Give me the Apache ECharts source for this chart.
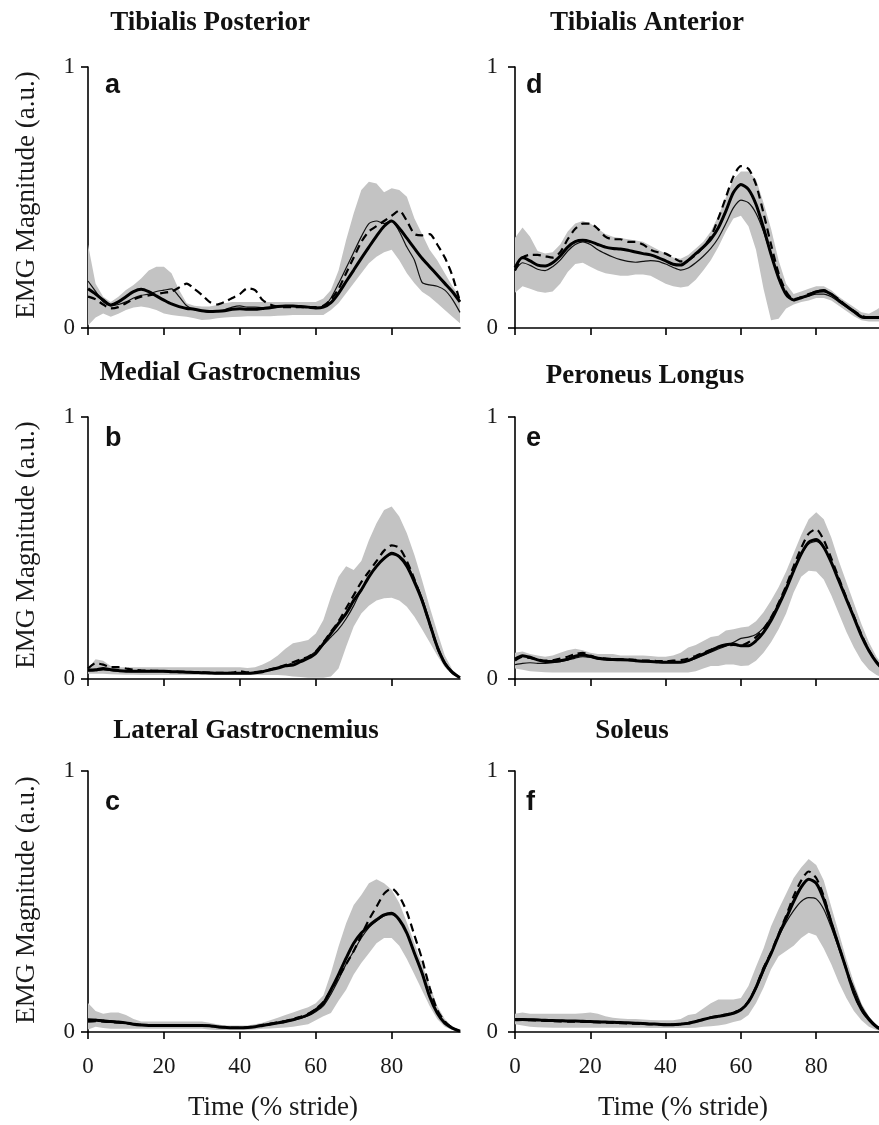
<!DOCTYPE html>
<html>
<head>
<meta charset="utf-8">
<script src="https://cdn.jsdelivr.net/npm/echarts@6/dist/echarts.min.js"></script>
<style>
html,body{margin:0;padding:0;background:#ffffff;}
#chart{width:879px;height:1125px;}
</style>
</head>
<body>
<div id="chart"></div>
<script>
// ---------- DATA ----------
const stride = [0,2,4,6,8,10,12,14,16,18,20,22,24,26,28,30,32,34,36,38,40,42,44,46,48,50,52,54,56,58,60,62,64,66,68,70,72,74,76,78,80,82,84,86,88,90,92,94,96,98];
const xTicks = [0,20,40,60,80];

const panelTitles = ["Tibialis Posterior","Tibialis Anterior","Medial Gastrocnemius","Peroneus Longus","Lateral Gastrocnemius","Soleus"];
const panelLetters = ["a","d","b","e","c","f"];
const yAxisTitle = "EMG Magnitude (a.u.)";
const xAxisTitle = "Time (% stride)";

// a - Tibialis Posterior
const aMean = [0.15,0.13,0.107,0.088,0.10,0.12,0.139,0.148,0.139,0.123,0.107,0.092,0.082,0.075,0.072,0.066,0.063,0.064,0.066,0.072,0.074,0.072,0.072,0.075,0.078,0.082,0.084,0.084,0.082,0.080,0.077,0.08,0.097,0.133,0.178,0.222,0.267,0.31,0.352,0.39,0.41,0.382,0.344,0.305,0.267,0.235,0.203,0.171,0.139,0.10];
const aThin = [0.18,0.14,0.10,0.085,0.09,0.10,0.115,0.125,0.13,0.14,0.145,0.15,0.12,0.085,0.07,0.065,0.06,0.065,0.07,0.08,0.085,0.08,0.08,0.078,0.08,0.082,0.085,0.085,0.085,0.08,0.075,0.08,0.115,0.17,0.23,0.29,0.35,0.40,0.41,0.40,0.41,0.37,0.31,0.26,0.175,0.165,0.16,0.145,0.11,0.06];
const aDash = [0.12,0.11,0.09,0.075,0.08,0.095,0.11,0.12,0.125,0.13,0.135,0.14,0.155,0.17,0.15,0.127,0.10,0.09,0.10,0.115,0.13,0.152,0.145,0.107,0.09,0.082,0.08,0.08,0.08,0.08,0.08,0.085,0.11,0.15,0.21,0.27,0.33,0.37,0.39,0.41,0.43,0.45,0.41,0.36,0.355,0.36,0.32,0.27,0.20,0.10];
const aUpper = [0.32,0.17,0.12,0.10,0.12,0.146,0.165,0.19,0.22,0.235,0.235,0.21,0.146,0.095,0.085,0.082,0.082,0.088,0.095,0.10,0.10,0.10,0.10,0.10,0.10,0.10,0.10,0.10,0.10,0.10,0.10,0.113,0.146,0.22,0.337,0.44,0.529,0.56,0.554,0.52,0.535,0.529,0.503,0.42,0.36,0.30,0.26,0.21,0.16,0.12];
const aLower = [0.01,0.04,0.056,0.043,0.055,0.069,0.079,0.082,0.078,0.069,0.056,0.05,0.046,0.043,0.037,0.031,0.033,0.037,0.04,0.042,0.043,0.045,0.045,0.045,0.045,0.047,0.048,0.05,0.05,0.05,0.05,0.05,0.069,0.095,0.133,0.171,0.21,0.248,0.273,0.29,0.30,0.26,0.21,0.171,0.139,0.12,0.095,0.069,0.043,0.018];

// d - Tibialis Anterior
const dMean = [0.231,0.27,0.257,0.241,0.238,0.25,0.276,0.31,0.331,0.336,0.331,0.32,0.31,0.305,0.303,0.298,0.291,0.285,0.28,0.27,0.257,0.244,0.241,0.259,0.285,0.31,0.34,0.384,0.448,0.519,0.55,0.531,0.474,0.384,0.282,0.193,0.129,0.107,0.116,0.126,0.139,0.142,0.129,0.106,0.084,0.063,0.043,0.04,0.04,0.04];
const dThin = [0.22,0.25,0.24,0.225,0.22,0.235,0.26,0.295,0.32,0.33,0.32,0.30,0.285,0.272,0.262,0.255,0.252,0.255,0.258,0.255,0.245,0.232,0.222,0.23,0.25,0.275,0.305,0.345,0.40,0.46,0.49,0.48,0.44,0.37,0.28,0.19,0.13,0.108,0.115,0.122,0.13,0.13,0.12,0.10,0.08,0.06,0.045,0.04,0.04,0.04];
const dDash = [0.22,0.27,0.28,0.28,0.275,0.27,0.29,0.34,0.38,0.40,0.40,0.38,0.35,0.34,0.34,0.33,0.33,0.32,0.30,0.29,0.285,0.27,0.255,0.26,0.28,0.31,0.35,0.42,0.50,0.58,0.62,0.61,0.55,0.44,0.32,0.21,0.14,0.11,0.118,0.13,0.14,0.145,0.13,0.11,0.085,0.065,0.047,0.04,0.04,0.04];
const dUpper = [0.346,0.385,0.35,0.295,0.285,0.29,0.32,0.37,0.40,0.41,0.40,0.38,0.36,0.35,0.345,0.34,0.335,0.33,0.315,0.30,0.285,0.27,0.265,0.28,0.305,0.33,0.37,0.43,0.50,0.57,0.60,0.60,0.57,0.48,0.38,0.26,0.17,0.13,0.14,0.15,0.16,0.16,0.145,0.12,0.10,0.08,0.06,0.055,0.07,0.09];
const dLower = [0.135,0.16,0.15,0.14,0.135,0.14,0.17,0.215,0.245,0.25,0.235,0.22,0.21,0.205,0.20,0.20,0.205,0.205,0.20,0.185,0.17,0.16,0.155,0.16,0.185,0.22,0.26,0.31,0.37,0.42,0.43,0.39,0.30,0.15,0.03,0.035,0.075,0.09,0.10,0.105,0.115,0.115,0.105,0.085,0.065,0.045,0.03,0.025,0.025,0.025];

// b - Medial Gastrocnemius
const bMean = [0.034,0.035,0.04,0.035,0.032,0.03,0.03,0.03,0.03,0.03,0.03,0.028,0.027,0.026,0.025,0.024,0.023,0.022,0.022,0.022,0.022,0.022,0.024,0.028,0.035,0.042,0.05,0.053,0.066,0.079,0.098,0.135,0.174,0.212,0.25,0.30,0.34,0.39,0.43,0.46,0.48,0.467,0.43,0.37,0.30,0.212,0.123,0.06,0.025,0.005];
const bThin = [0.03,0.032,0.035,0.033,0.03,0.029,0.028,0.028,0.028,0.028,0.028,0.027,0.026,0.025,0.024,0.023,0.022,0.021,0.021,0.021,0.021,0.022,0.025,0.03,0.037,0.044,0.052,0.062,0.072,0.085,0.105,0.13,0.16,0.19,0.23,0.28,0.34,0.39,0.43,0.46,0.475,0.47,0.44,0.38,0.31,0.22,0.13,0.065,0.028,0.006];
const bDash = [0.04,0.06,0.055,0.045,0.045,0.04,0.035,0.033,0.032,0.031,0.03,0.029,0.028,0.027,0.026,0.025,0.024,0.023,0.023,0.024,0.03,0.025,0.026,0.03,0.036,0.044,0.053,0.064,0.075,0.085,0.105,0.14,0.18,0.22,0.27,0.32,0.37,0.41,0.45,0.49,0.51,0.50,0.45,0.38,0.30,0.21,0.12,0.058,0.024,0.005];
const bUpper = [0.04,0.075,0.07,0.05,0.045,0.045,0.045,0.045,0.045,0.045,0.045,0.045,0.045,0.045,0.045,0.045,0.045,0.045,0.045,0.045,0.045,0.042,0.045,0.055,0.07,0.09,0.115,0.136,0.142,0.149,0.174,0.225,0.314,0.39,0.43,0.416,0.45,0.53,0.594,0.645,0.658,0.62,0.556,0.473,0.378,0.276,0.18,0.09,0.035,0.01];
const bLower = [0.02,0.02,0.02,0.018,0.017,0.016,0.016,0.015,0.015,0.015,0.015,0.015,0.015,0.015,0.015,0.015,0.015,0.015,0.015,0.015,0.015,0.015,0.015,0.015,0.015,0.015,0.013,0.01,0.008,0.005,0.005,0.005,0.01,0.04,0.123,0.20,0.25,0.28,0.30,0.308,0.31,0.30,0.276,0.238,0.19,0.14,0.09,0.045,0.015,0.003];

// e - Peroneus Longus
const eMean = [0.076,0.089,0.083,0.073,0.067,0.067,0.07,0.076,0.087,0.092,0.087,0.079,0.076,0.074,0.074,0.073,0.07,0.068,0.067,0.065,0.064,0.064,0.064,0.07,0.083,0.095,0.108,0.123,0.131,0.134,0.127,0.127,0.146,0.178,0.223,0.28,0.343,0.413,0.477,0.522,0.532,0.503,0.445,0.375,0.305,0.235,0.165,0.108,0.064,0.032];
const eThin = [0.055,0.06,0.062,0.06,0.06,0.062,0.066,0.072,0.08,0.085,0.082,0.076,0.073,0.071,0.07,0.07,0.068,0.066,0.065,0.063,0.062,0.062,0.063,0.068,0.078,0.09,0.102,0.115,0.125,0.14,0.155,0.16,0.17,0.195,0.235,0.29,0.35,0.415,0.475,0.515,0.525,0.50,0.445,0.375,0.305,0.235,0.165,0.11,0.065,0.033];
const eDash = [0.07,0.085,0.08,0.075,0.07,0.072,0.078,0.085,0.095,0.10,0.09,0.08,0.078,0.076,0.075,0.075,0.073,0.07,0.07,0.068,0.068,0.07,0.072,0.078,0.088,0.10,0.112,0.122,0.128,0.13,0.128,0.14,0.16,0.19,0.235,0.29,0.355,0.43,0.50,0.555,0.572,0.53,0.46,0.385,0.31,0.24,0.17,0.11,0.065,0.032];
const eUpper = [0.10,0.105,0.095,0.09,0.085,0.09,0.10,0.11,0.115,0.11,0.10,0.095,0.095,0.095,0.09,0.09,0.09,0.09,0.088,0.085,0.085,0.09,0.10,0.12,0.13,0.145,0.16,0.165,0.185,0.19,0.197,0.20,0.22,0.255,0.30,0.35,0.41,0.48,0.55,0.61,0.636,0.61,0.54,0.45,0.37,0.29,0.21,0.14,0.085,0.045];
const eLower = [0.04,0.035,0.03,0.028,0.026,0.025,0.025,0.025,0.025,0.025,0.025,0.025,0.025,0.025,0.025,0.025,0.025,0.025,0.025,0.025,0.025,0.025,0.025,0.025,0.03,0.04,0.05,0.05,0.055,0.055,0.05,0.052,0.07,0.10,0.14,0.19,0.25,0.33,0.39,0.413,0.41,0.38,0.32,0.25,0.18,0.12,0.07,0.035,0.015,0.005];

// c - Lateral Gastrocnemius
const cMean = [0.045,0.045,0.043,0.04,0.038,0.035,0.03,0.027,0.025,0.025,0.025,0.025,0.025,0.025,0.025,0.025,0.024,0.02,0.018,0.016,0.016,0.017,0.02,0.025,0.03,0.035,0.04,0.047,0.055,0.066,0.085,0.11,0.162,0.22,0.283,0.34,0.379,0.407,0.43,0.449,0.455,0.43,0.379,0.302,0.226,0.136,0.073,0.034,0.015,0.003];
const cThin = [0.05,0.048,0.045,0.042,0.04,0.036,0.031,0.028,0.026,0.026,0.026,0.026,0.026,0.025,0.025,0.024,0.022,0.019,0.017,0.016,0.016,0.017,0.02,0.024,0.028,0.033,0.038,0.045,0.052,0.062,0.078,0.10,0.145,0.20,0.26,0.31,0.36,0.40,0.425,0.445,0.45,0.43,0.38,0.305,0.23,0.14,0.075,0.035,0.015,0.003];
const cDash = [0.04,0.042,0.04,0.038,0.036,0.034,0.03,0.027,0.025,0.025,0.025,0.025,0.025,0.025,0.025,0.025,0.024,0.02,0.018,0.016,0.016,0.018,0.022,0.027,0.032,0.037,0.042,0.05,0.058,0.07,0.088,0.115,0.16,0.21,0.26,0.31,0.37,0.43,0.48,0.53,0.55,0.52,0.46,0.37,0.28,0.17,0.085,0.04,0.015,0.003];
const cUpper = [0.111,0.08,0.07,0.075,0.075,0.065,0.05,0.04,0.04,0.04,0.04,0.04,0.04,0.04,0.04,0.04,0.035,0.03,0.025,0.025,0.025,0.025,0.03,0.035,0.045,0.055,0.065,0.075,0.085,0.095,0.11,0.14,0.226,0.328,0.417,0.487,0.525,0.57,0.585,0.57,0.545,0.494,0.42,0.34,0.26,0.18,0.10,0.05,0.02,0.005];
const cLower = [0.01,0.02,0.015,0.012,0.012,0.012,0.012,0.012,0.012,0.012,0.012,0.012,0.012,0.012,0.012,0.012,0.01,0.008,0.008,0.008,0.008,0.008,0.01,0.012,0.013,0.015,0.017,0.02,0.025,0.03,0.045,0.06,0.073,0.12,0.162,0.22,0.264,0.302,0.34,0.36,0.36,0.33,0.28,0.22,0.16,0.10,0.05,0.02,0.008,0.0];

// f - Soleus
const fMean = [0.048,0.048,0.047,0.046,0.045,0.044,0.043,0.042,0.042,0.041,0.04,0.039,0.038,0.037,0.036,0.035,0.034,0.033,0.031,0.03,0.028,0.028,0.03,0.033,0.04,0.048,0.055,0.06,0.065,0.072,0.085,0.115,0.17,0.24,0.30,0.37,0.435,0.50,0.555,0.585,0.57,0.508,0.418,0.329,0.24,0.15,0.087,0.048,0.02,0.005];
const fThin = [0.05,0.05,0.049,0.048,0.047,0.046,0.045,0.044,0.043,0.042,0.041,0.04,0.039,0.038,0.037,0.036,0.035,0.034,0.032,0.031,0.03,0.03,0.031,0.034,0.04,0.047,0.054,0.06,0.066,0.074,0.087,0.115,0.165,0.23,0.30,0.365,0.42,0.465,0.50,0.515,0.51,0.47,0.40,0.32,0.24,0.17,0.10,0.055,0.025,0.006];
const fDash = [0.045,0.046,0.045,0.044,0.043,0.042,0.041,0.04,0.04,0.039,0.038,0.037,0.036,0.035,0.034,0.033,0.032,0.031,0.03,0.029,0.028,0.028,0.03,0.034,0.041,0.049,0.056,0.062,0.067,0.074,0.087,0.118,0.172,0.245,0.305,0.375,0.445,0.52,0.58,0.615,0.59,0.52,0.42,0.33,0.24,0.15,0.085,0.047,0.02,0.005];
const fUpper = [0.07,0.075,0.07,0.07,0.07,0.07,0.07,0.07,0.07,0.072,0.075,0.07,0.06,0.055,0.052,0.05,0.05,0.048,0.046,0.045,0.045,0.045,0.05,0.065,0.07,0.09,0.11,0.125,0.125,0.125,0.13,0.176,0.25,0.32,0.405,0.47,0.53,0.59,0.63,0.663,0.64,0.58,0.48,0.38,0.28,0.19,0.11,0.06,0.025,0.008];
const fLower = [0.03,0.025,0.02,0.018,0.017,0.016,0.016,0.016,0.016,0.016,0.016,0.016,0.016,0.016,0.016,0.016,0.016,0.016,0.015,0.015,0.015,0.015,0.015,0.015,0.016,0.02,0.022,0.025,0.03,0.038,0.045,0.065,0.11,0.17,0.24,0.29,0.31,0.33,0.36,0.38,0.37,0.32,0.26,0.19,0.13,0.08,0.045,0.02,0.008,0.0];

// ---------- LAYOUT / STYLE ----------
const panelData = [
  {mean:aMean, thin:aThin, dash:aDash, upper:aUpper, lower:aLower},
  {mean:dMean, thin:dThin, dash:dDash, upper:dUpper, lower:dLower},
  {mean:bMean, thin:bThin, dash:bDash, upper:bUpper, lower:bLower},
  {mean:eMean, thin:eThin, dash:eDash, upper:eUpper, lower:eLower},
  {mean:cMean, thin:cThin, dash:cDash, upper:cUpper, lower:cLower},
  {mean:fMean, thin:fThin, dash:fDash, upper:fUpper, lower:fLower}
];
const grids = [
  {left:88, top:67, width:372, height:261},
  {left:515, top:67, width:369, height:261},
  {left:88, top:417, width:372, height:262},
  {left:515, top:417, width:369, height:262},
  {left:88, top:771, width:372, height:261},
  {left:515, top:771, width:369, height:261}
];
const titlePos = [[210,23],[647,23],[230,373],[645,376],[246,731],[632,731]];
const letterPos = [[105,86],[526,86],[105,439],[526,439],[105,803],[526,803]];
const yTitlePos = [[27,195],[27,545],[27,900]];
const xTitlePos = [[273,1108],[683,1108]];

const SERIF = '"Liberation Serif","Times New Roman",serif';
const SANS = '"Liberation Sans",Arial,sans-serif';
const BAND = '#c3c3c3';

const chart = echarts.init(document.getElementById('chart'), null, {renderer:'canvas'});

const xAxes = [], yAxes = [], series = [], graphics = [];
grids.forEach((g, i) => {
  const col = i % 2;
  const bottom = i >= 4;
  xAxes.push({
    gridIndex:i, type:'value', min:0, max:98,
    axisLine:{show:true, onZero:false, lineStyle:{color:'#000', width:1.6}},
    axisTick:{show:true, customValues:xTicks, length:7, lineStyle:{color:'#000', width:1.6}},
    axisLabel:{show:bottom, customValues:xTicks, margin:23, fontFamily:SERIF, fontSize:23, color:'#1a1a1a'},
    splitLine:{show:false}
  });
  yAxes.push({
    gridIndex:i, type:'value', min:0, max:1, interval:1,
    axisLine:{show:true, onZero:false, lineStyle:{color:'#000', width:1.6}},
    axisTick:{show:true, length:7, lineStyle:{color:'#000', width:1.6}},
    axisLabel:{show:true, margin: col === 0 ? 13 : 17, fontFamily:SERIF, fontSize:23, color:'#1a1a1a'},
    splitLine:{show:false}
  });
  const p = panelData[i];
  series.push({
    type:'custom', xAxisIndex:i, yAxisIndex:i, silent:true, clip:true, z:1,
    data:[[0,0]], encode:{x:0, y:1},
    renderItem:(params, api) => {
      const pts = [];
      for (let k = 0; k < stride.length; k++) pts.push(api.coord([stride[k], p.upper[k]]));
      for (let k = stride.length - 1; k >= 0; k--) pts.push(api.coord([stride[k], p.lower[k]]));
      return {type:'polygon', shape:{points:pts}, style:{fill:BAND}};
    }
  });
  const mk = (arr, style) => ({
    type:'line', xAxisIndex:i, yAxisIndex:i, silent:true, z:3,
    symbol:'none', showSymbol:false, smooth:0.25,
    data: stride.map((x, k) => [x, arr[k]]),
    lineStyle: style
  });
  series.push(mk(p.thin, {color:'#111', width:1.2}));
  series.push(mk(p.dash, {color:'#000', width:2.2, type:[8,5]}));
  series.push(mk(p.mean, {color:'#000', width:3}));

  graphics.push({type:'text', x:titlePos[i][0], y:titlePos[i][1],
    style:{text:panelTitles[i], font:'bold 27px ' + SERIF, fill:'#111',
      textAlign:'center', textVerticalAlign:'middle', align:'center', verticalAlign:'middle'}});
  graphics.push({type:'text', x:letterPos[i][0], y:letterPos[i][1],
    style:{text:panelLetters[i], font:'bold 27px ' + SANS, fill:'#111',
      textAlign:'left', textVerticalAlign:'middle', align:'left', verticalAlign:'middle'}});
});
yTitlePos.forEach(pos => {
  graphics.push({type:'text', x:pos[0], y:pos[1], rotation:Math.PI/2,
    style:{text:yAxisTitle, font:'27px ' + SERIF, fill:'#1a1a1a',
      textAlign:'center', textVerticalAlign:'middle', align:'center', verticalAlign:'middle'}});
});
xTitlePos.forEach(pos => {
  graphics.push({type:'text', x:pos[0], y:pos[1],
    style:{text:xAxisTitle, font:'27px ' + SERIF, fill:'#1a1a1a',
      textAlign:'center', textVerticalAlign:'middle', align:'center', verticalAlign:'middle'}});
});

chart.setOption({
  backgroundColor:'#ffffff',
  animation:false,
  grid: grids.map(g => Object.assign({outerBoundsMode:'none', containLabel:false}, g)),
  xAxis: xAxes,
  yAxis: yAxes,
  series: series,
  graphic: {elements: graphics}
});
</script>
</body>
</html>
